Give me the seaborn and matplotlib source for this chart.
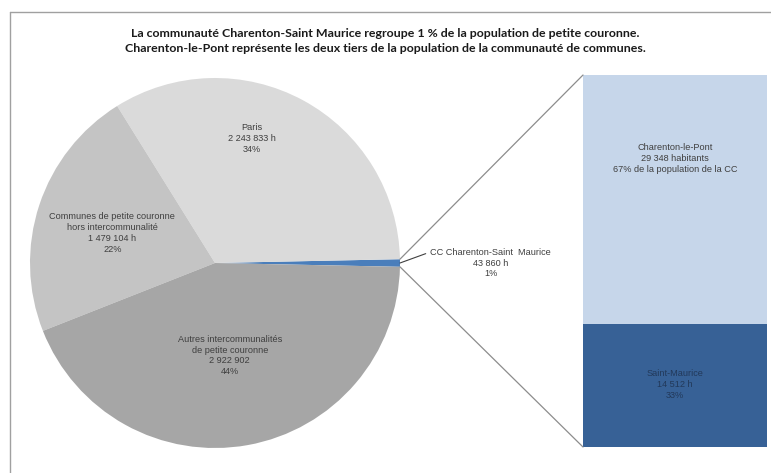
import numpy as np
import pandas as pd
import matplotlib
matplotlib.use("Agg")
import matplotlib.pyplot as plt
import seaborn as sns
from matplotlib.patches import ConnectionPatch
from matplotlib.lines import Line2D

# ---- data ----
pie_labels = ["CC Charenton-Saint  Maurice", "Paris",
              "Communes de petite couronne\nhors intercommunalité",
              "Autres intercommunalités\nde petite couronne"]
pie_values = [43860, 2243833, 1479104, 2922902]
pie_value_text = ["43 860 h", "2 243 833 h", "1 479 104 h", "2 922 902"]
pie_pct_text = ["1%", "34%", "22%", "44%"]

bar_labels = ["Charenton-le-Pont", "Saint-Maurice"]
bar_values = [29348, 14512]
bar_value_text = ["29 348 habitants", "14 512 h"]
bar_pct_text = ["67% de la population de la CC", "33%"]

title = ("La communauté Charenton-Saint Maurice regroupe 1 % de la population de petite couronne.\n"
         "Charenton-le-Pont représente les deux tiers de la population de la communauté de communes.")

pie_colors = ["#4a7ebb", "#dadada", "#c4c4c4", "#a6a6a6"]
bar_colors = ["#c6d6ea", "#376196"]

sns.set_theme(style="white")
plt.rcParams["font.family"] = ["Liberation Sans", "DejaVu Sans"]

W, H = 771, 473
fig = plt.figure(figsize=(W / 100, H / 100), dpi=100)
fig.patch.set_facecolor("white")

# ---- pie ----
ax = fig.add_axes([30 / W, (H - 448) / H, 370 / W, 370 / H])
total = sum(pie_values)
cc_angle = pie_values[0] / total * 360
start = -cc_angle / 2
wedges, _ = ax.pie(pie_values, colors=pie_colors, startangle=start,
                   counterclock=True, radius=1.0,
                   wedgeprops=dict(linewidth=0))
ax.set_xlim(-1, 1)
ax.set_ylim(-1, 1)
ax.set_aspect("equal")
ax.axis("off")

txt_color = "#3f3f3f"
fs = 6.6
ls = 1.28
# Paris
ax.text(0.20, 0.675, f"{pie_labels[1]}\n{pie_value_text[1]}\n{pie_pct_text[1]}",
        ha="center", va="center", fontsize=fs, color=txt_color, linespacing=ls)
# Communes
ax.text(-0.555, 0.16, f"{pie_labels[2]}\n{pie_value_text[2]}\n{pie_pct_text[2]}",
        ha="center", va="center", fontsize=fs, color=txt_color, linespacing=ls)
# Autres
ax.text(0.08, -0.50, f"{pie_labels[3]}\n{pie_value_text[3]}\n{pie_pct_text[3]}",
        ha="center", va="center", fontsize=fs, color=txt_color, linespacing=ls)
# CC with leader
ax.annotate(f"{pie_labels[0]}\n{pie_value_text[0]}\n{pie_pct_text[0]}",
            xy=(1.0, 0.0), xytext=(1.49, 0.0), ha="center", va="center",
            fontsize=fs, color=txt_color, linespacing=ls,
            arrowprops=dict(arrowstyle="-", color="#404040", lw=0.8,
                            relpos=(0.0, 0.85), shrinkA=1, shrinkB=0,
                            connectionstyle="angle,angleA=0,angleB=20,rad=0"),
            annotation_clip=False)

# ---- stacked bar (seaborn) ----
bx = fig.add_axes([583 / W, (H - 447) / H, 184 / W, 372 / H])
cc_total = sum(bar_values)
df_total = pd.DataFrame({"g": ["CC"], "v": [cc_total]})
df_low = pd.DataFrame({"g": ["CC"], "v": [bar_values[1]]})
sns.barplot(data=df_total, x="g", y="v", color=bar_colors[0], width=1.0,
            saturation=1, ax=bx, linewidth=0)
sns.barplot(data=df_low, x="g", y="v", color=bar_colors[1], width=1.0,
            saturation=1, ax=bx, linewidth=0)
bx.set_xlim(-0.5, 0.5)
bx.set_ylim(0, cc_total)
bx.axis("off")
bx.text(0, bar_values[1] + bar_values[0] * 0.663,
        f"{bar_labels[0]}\n{bar_value_text[0]}\n{bar_pct_text[0]}",
        ha="center", va="center", fontsize=fs, color=txt_color, linespacing=ls)
bx.text(0, bar_values[1] * 0.51,
        f"{bar_labels[1]}\n{bar_value_text[1]}\n{bar_pct_text[1]}",
        ha="center", va="center", fontsize=fs, color="#22395a", linespacing=ls)

# ---- connectors ----
a0 = np.deg2rad(start)
a1 = np.deg2rad(start + cc_angle)
for ang, yb in [(a1, cc_total), (a0, 0)]:
    con = ConnectionPatch(xyA=(np.cos(ang), np.sin(ang)), coordsA=ax.transData,
                          xyB=(-0.5, yb), coordsB=bx.transData,
                          color="#8c8c8c", lw=0.9)
    fig.add_artist(con)

# ---- frame ----
fig.add_artist(Line2D([10 / W, 1.01], [1 - 12 / H, 1 - 12 / H],
                      transform=fig.transFigure, color="#a0a0a0", lw=1.0))
fig.add_artist(Line2D([10 / W, 10 / W], [-0.01, 1 - 12 / H],
                      transform=fig.transFigure, color="#a0a0a0", lw=1.0))

# ---- title ----
fig.text(0.4995, 1 - 41 / H, title, ha="center", va="center",
         fontsize=8.9, fontweight="bold", color="#1a1a1a", linespacing=1.5,
         family=["Lato", "DejaVu Sans"])

fig.savefig("out.png", dpi=100, facecolor="white")
